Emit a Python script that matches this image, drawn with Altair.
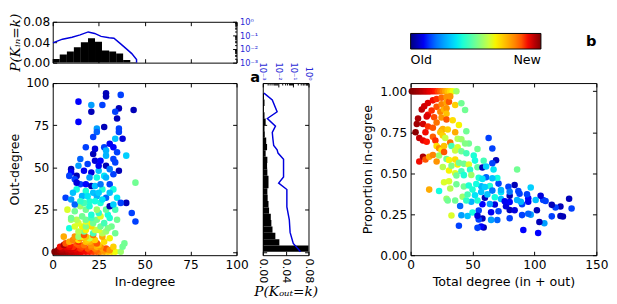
import altair as alt
import pandas as pd

FONT = "DejaVu Sans"
SERIF = "DejaVu Serif"
BLUE = "#0000dd"
BLUE_TXT = "#2b2bd6"

# ---------------- data ----------------
node_in = [
    1, 2, 3, 4, 5, 6, 7, 8, 9, 10, 11, 12, 13, 14, 15, 16, 18, 20, 22, 24, 26, 28, 30, 32, 34, 37,
    3, 4, 5, 8, 10, 13, 17, 20, 24, 28, 5, 8, 12, 15, 19, 23, 27, 11, 29, 31,
    7, 11, 16, 21, 24, 9, 4, 26, 33, 38, 9, 14, 17, 21, 25, 6,
    7, 13, 24, 39, 9, 14, 19, 28, 20, 18, 11, 14, 19, 23, 15, 31, 20, 6, 12, 27,
    16, 18, 14, 17, 22,
    34, 22, 27, 29, 17, 14, 18, 25, 23, 9, 26, 32, 16, 21, 18, 12, 30, 21, 22, 14,
    28, 18, 13, 35, 18, 10, 24, 10, 31, 21, 16, 26, 21, 30, 25, 12, 8, 18, 24, 29,
    34, 15, 20,
    29, 29, 37, 14, 21, 27, 36, 44, 21, 34, 35, 14, 36, 24, 28, 36, 24, 22, 38, 34,
    28, 33, 18, 29, 35, 40, 22, 29, 15, 33, 34, 23, 26, 19, 29, 10, 14, 10, 25, 36,
    9, 13, 21, 28, 33, 45, 12, 15, 24, 29, 18, 21, 23, 31, 27, 33, 18, 13, 22, 16,
    24, 29, 7, 35, 10, 40, 37, 12, 31, 20, 26, 43, 45,
    26, 20, 31, 17, 25, 13, 23, 31, 27, 31, 17, 23, 25, 19, 33, 11, 15,
]
node_out = [
    0, 0, 0, 0, 0, 0, 0, 0, 0, 0, 0, 0, 0, 0, 0, 0, 0, 0, 0, 0, 0, 0, 0, 0, 0, 0,
    1, 1, 1, 1, 1, 1, 1, 1, 1, 1, 2, 2, 2, 2, 2, 2, 2, 2, 2, 1,
    3, 3, 3, 3, 3, 3, 3, 3, 3, 3, 4, 4, 4, 4, 4, 4,
    5, 5, 5, 5, 6, 6, 6, 6, 6, 6, 7, 7, 7, 7, 8, 8, 8, 9, 9, 9,
    9, 9, 9, 10, 10,
    11, 11, 11, 12, 12, 12, 13, 13, 13, 14, 15, 15, 15, 15, 15, 15, 14, 17, 17, 17,
    17, 18, 19, 19, 19, 19, 19, 20, 20, 20, 21, 21, 22, 22, 23, 24, 25, 25, 25, 25,
    25, 27, 27,
    94, 92, 93, 89, 87, 87, 85, 84, 83, 83, 79, 77, 73, 73, 74, 71, 71, 68, 67, 67,
    62, 62, 62, 60, 59, 57, 58, 57, 55, 55, 53, 54, 54, 52, 51, 49, 51, 47, 48, 48,
    45, 45, 47, 45, 46, 41, 43, 40, 44, 44, 40, 39, 39, 40, 37, 37, 36, 37, 35, 33,
    33, 32, 32, 32, 31, 29, 29, 28, 27, 30, 29, 23, 18,
    40, 44, 49, 48, 51, 41, 61, 64, 31, 35, 29, 30, 35, 33, 28, 35, 30,
]
node_age = [
    1.0, 1.0, 0.99, 0.99, 0.98, 0.98, 0.97, 0.97, 0.96, 0.95, 0.95, 0.94, 0.93, 0.93, 0.92, 0.91,
    0.9, 0.89, 0.87, 0.84, 0.8, 0.76, 0.72, 0.68, 0.64, 0.55,
    0.99, 0.97, 0.96, 0.95, 0.93, 0.92, 0.9, 0.88, 0.83, 0.78, 0.94, 0.93, 0.9, 0.88, 0.85, 0.8,
    0.76, 0.92, 0.85, 0.78,
    0.91, 0.88, 0.86, 0.8, 0.74, 0.9, 0.9, 0.78, 0.7, 0.5, 0.89, 0.85, 0.82, 0.78, 0.72, 0.96,
    0.85, 0.84, 0.85, 0.5, 0.75, 0.88, 0.82, 0.68, 0.74, 0.72, 0.8, 0.68, 0.7, 0.7, 0.78, 0.65,
    0.6, 0.75, 0.78, 0.75, 0.66, 0.72, 0.55, 0.85, 0.82,
    0.5, 0.45, 0.58, 0.55, 0.5, 0.58, 0.65, 0.62, 0.6, 0.38, 0.5, 0.5, 0.65, 0.68, 0.52, 0.62,
    0.52, 0.65, 0.5, 0.62, 0.45, 0.62, 0.58, 0.5, 0.5, 0.55, 0.5, 0.5, 0.4, 0.45, 0.5, 0.62,
    0.4, 0.38, 0.42, 0.5, 0.62, 0.5, 0.55, 0.48, 0.45, 0.55, 0.4,
    0.05, 0.05, 0.15, 0.12, 0.25, 0.15, 0.05, 0.05, 0.05, 0.15, 0.05, 0.12, 0.15, 0.25, 0.05, 0.15,
    0.18, 0.15, 0.08, 0.3, 0.15, 0.12, 0.15, 0.28, 0.15, 0.32, 0.05, 0.28, 0.18, 0.15, 0.15, 0.08,
    0.12, 0.15, 0.05, 0.05, 0.25, 0.12, 0.3, 0.05, 0.15, 0.05, 0.08, 0.35, 0.15, 0.5, 0.15, 0.15,
    0.38, 0.28, 0.12, 0.05, 0.3, 0.15, 0.4, 0.38, 0.4, 0.38, 0.3, 0.28, 0.28, 0.18, 0.15, 0.35,
    0.25, 0.05, 0.15, 0.18, 0.05, 0.4, 0.4, 0.15, 0.15,
    0.2, 0.25, 0.2, 0.1, 0.1, 0.08, 0.08, 0.1, 0.35, 0.3, 0.45, 0.38, 0.32, 0.35, 0.32, 0.3, 0.42,
]

in_bin_edges = [0, 3.8, 7.7, 11.5, 15.3, 19.2, 23.0, 26.8, 30.7, 34.5, 38.3, 42.2, 46.0]
in_density = [0.007, 0.016, 0.022, 0.030, 0.040, 0.048, 0.041, 0.024, 0.022, 0.018, 0.005, 0.001]
in_curve_k = [0, 5.3, 10.5, 14.9, 19.3, 22.8, 26.3, 30.7, 33.3, 36.8, 40.4, 43.0, 45.6, 45.6]
in_curve_p = [0.028, 0.053, 0.074, 0.11, 0.18, 0.14, 0.085, 0.068, 0.062, 0.025, 0.0095,
              0.0046, 0.0017, 0.001]

out_bin_edges = [0, 3.76, 7.52, 11.28, 15.04, 18.8, 22.56, 26.32, 30.08, 33.84, 37.6, 41.36,
                 45.12, 48.88, 52.64, 56.4, 60.16, 63.92, 67.68, 71.44, 75.2, 78.96, 82.72,
                 86.48, 90.24, 94.0]
out_density = [0.085, 0.029, 0.022, 0.017, 0.015, 0.014, 0.011, 0.010, 0.0085, 0.008, 0.010,
               0.010, 0.008, 0.0075, 0.008, 0.005, 0.0075, 0.006, 0.0035, 0.003, 0.005, 0.003,
               0.002, 0.003, 0.002]
out_curve_k = [94, 90, 83, 79, 74.5, 70.7, 66.9, 63, 60.4, 58.5, 54.8, 52.8, 46.3, 44.4, 40.7,
               36.9, 26.6, 19, 11.5, 5, 0]
out_curve_p = [0.0012, 0.0042, 0.0087, 0.002, 0.0068, 0.0042, 0.0046, 0.0052, 0.0087, 0.010,
               0.023, 0.023, 0.023, 0.023, 0.011, 0.038, 0.038, 0.055, 0.062, 0.10, 0.30]

deg_ticks = [0, 25, 50, 75, 100]
dens_ticks = [0, 0.04, 0.08]
log_major = [0.001, 0.01, 0.1, 1]
log_all = [m * 10 ** e for e in (-3, -2, -1) for m in range(1, 10)] + [1]
tot_ticks = [0, 50, 100, 150]
prop_ticks = [0, 0.25, 0.5, 0.75, 1.0]

# jet colormap
JET_D = [0, 0.11, 0.125, 0.34, 0.35, 0.375, 0.64, 0.65, 0.66, 0.89, 0.91, 1]
JET_R = ["#000080", "#0000ff", "#0000ff", "#00dbff", "#00e5f7", "#14ffe2", "#eeff08",
         "#f7f500", "#ffec00", "#ff1300", "#e80000", "#800000"]

# ---------------- frames ----------------
nodes = pd.DataFrame({"kin": node_in, "kout": node_out, "age": node_age})
in_hist = pd.DataFrame({"lo": in_bin_edges[:-1], "hi": in_bin_edges[1:], "dens": in_density})
in_curve = pd.DataFrame({"k": in_curve_k, "p": in_curve_p, "i": list(range(len(in_curve_k)))})
out_hist = pd.DataFrame({"lo": out_bin_edges[:-1], "hi": out_bin_edges[1:], "dens": out_density})
out_curve = pd.DataFrame({"k": out_curve_k, "p": out_curve_p, "i": list(range(len(out_curve_k)))})

W1, W2, WG, W4 = 189, 47, 51, 191
H1, H2 = 42, 177

x_deg = alt.Scale(domain=[0, 100], nice=False, zero=False)
y_out = alt.Scale(domain=[-2, 100], nice=False, zero=False)
y_dens = alt.Scale(domain=[0, 0.08], nice=False, zero=False)
x_dens = alt.Scale(domain=[0, 0.08], nice=False, zero=False)
logsc = alt.Scale(type="log", domain=[0.001, 1], nice=False)
x_tot = alt.Scale(domain=[0, 150], nice=False, zero=False)
y_prop = alt.Scale(domain=[0, 1.05], nice=False, zero=False)

LAB = dict(ticks=False, domain=False, grid=False, labelFlush=False, labelOverlap=False)
POW = ("datum.value >= 0.5 ? '10⁰' : datum.value >= 0.05 ? '10⁻¹' : "
       "datum.value >= 0.005 ? '10⁻²' : '10⁻³'")
MAJOR = "datum.value == 0.001 || datum.value == 0.01 || datum.value == 0.1 || datum.value == 1"
MINOR_SIZE = {"condition": {"test": MAJOR, "value": 4}, "value": 2}


def tick_axis(side, values, dim, size=4):
    orient = {"bottom": "top", "top": "bottom", "left": "right", "right": "left"}[side]
    return alt.Axis(orient=orient, offset=-dim, values=values, labels=False, domain=False,
                    grid=False, ticks=True, tickSize=size, tickColor="black", tickWidth=1,
                    title=None)


def helper(base, xf, xs, xa, yf, ys, ya):
    return base.mark_point(opacity=0, size=1, clip=True).encode(
        x=alt.X(xf, scale=xs, axis=xa), y=alt.Y(yf, scale=ys, axis=ya))


LEG = alt.Legend(orient="none", legendX=368, legendY=12, direction="horizontal",
                 gradientLength=134, gradientThickness=16, gradientStrokeColor="black",
                 gradientStrokeWidth=1, title=None, values=[0, 1],
                 labelExpr="datum.value < 0.5 ? 'Old' : 'New'", labelFontSize=13,
                 labelFont=FONT, labelColor="black", labelAlign="center", labelOffset=5,
                 labelOverlap=False)
color = alt.Color("age:Q", scale=alt.Scale(domain=JET_D, range=JET_R), legend=LEG)

# ---------------- top histogram (in-degree) ----------------
top_bars = alt.Chart(in_hist).mark_rect(color="black", clip=True).encode(
    x=alt.X("lo:Q", scale=x_deg, axis=None),
    x2="hi:Q",
    y=alt.Y("dens:Q", scale=y_dens,
            axis=alt.Axis(orient="left", values=dens_ticks, format=".2f", labelPadding=3,
                          title="P(Kᵢₙ=k)", titleFont=SERIF, titleFontStyle="italic",
                          titleFontSize=14, titlePadding=0, **LAB)),
    y2=alt.datum(0),
)
top_line = alt.Chart(in_curve).mark_line(color=BLUE, strokeWidth=1.5, clip=True).encode(
    x=alt.X("k:Q", scale=x_deg, axis=None),
    y=alt.Y("p:Q", scale=logsc,
            axis=alt.Axis(orient="right", values=log_major, labelExpr=POW, labelColor=BLUE_TXT,
                          labelFontSize=8.5, labelPadding=3, title=None, **LAB)),
    order="i:Q",
)
top_t1 = helper(alt.Chart(in_hist), "lo:Q", x_deg, tick_axis("bottom", deg_ticks, H1),
                "dens:Q", y_dens, tick_axis("left", dens_ticks, W1))
top_t2 = helper(alt.Chart(in_curve), "k:Q", x_deg, tick_axis("top", deg_ticks, H1),
                "p:Q", logsc, tick_axis("right", log_all, W1, MINOR_SIZE))
top = alt.layer(top_bars, top_line, top_t1, top_t2).resolve_scale(
    x="independent", y="independent").resolve_axis(x="independent", y="independent").properties(
    width=W1, height=H1)

# ---------------- scatter a ----------------
pts_a = alt.Chart(nodes).mark_circle(size=45, opacity=1).encode(
    x=alt.X("kin:Q", scale=x_deg,
            axis=alt.Axis(values=deg_ticks, labelPadding=4, title="In-degree", titlePadding=5, **LAB)),
    y=alt.Y("kout:Q", scale=y_out,
            axis=alt.Axis(values=deg_ticks, labelPadding=4, title="Out-degree", titlePadding=4, **LAB)),
    color=color,
)
a_t1 = helper(alt.Chart(nodes), "kin:Q", x_deg, tick_axis("bottom", deg_ticks, H2),
              "kout:Q", y_out, tick_axis("left", deg_ticks, W1))
a_t2 = helper(alt.Chart(nodes), "kin:Q", x_deg, tick_axis("top", deg_ticks, H2),
              "kout:Q", y_out, tick_axis("right", deg_ticks, W1))
scat_a = alt.layer(pts_a, a_t1, a_t2).resolve_axis(x="independent", y="independent").properties(
    width=W1, height=H2)

# ---------------- right histogram (out-degree) ----------------
rh_bars = alt.Chart(out_hist).mark_rect(color="black", clip=True).encode(
    x=alt.X("dens:Q", scale=x_dens,
            axis=alt.Axis(values=dens_ticks, format=".2f", labelAngle=90, labelFontSize=11.5,
                          labelPadding=3, title="P(Kₒᵤₜ=k)", titleFont=SERIF,
                          titleFontStyle="italic", titleFontSize=14, titlePadding=2, **LAB)),
    x2=alt.datum(0),
    y=alt.Y("lo:Q", scale=y_out, axis=None),
    y2="hi:Q",
)
rh_line = alt.Chart(out_curve).mark_line(color=BLUE, strokeWidth=1.5, clip=True).encode(
    x=alt.X("p:Q", scale=logsc,
            axis=alt.Axis(orient="top", values=log_major, labelExpr=POW, labelAngle=90,
                          labelColor=BLUE_TXT, labelFontSize=8.5, labelPadding=3, title=None, **LAB)),
    y=alt.Y("k:Q", scale=y_out, axis=None),
    order="i:Q",
)
rh_t1 = helper(alt.Chart(out_hist), "dens:Q", x_dens, tick_axis("bottom", dens_ticks, H2),
               "lo:Q", y_out, tick_axis("left", deg_ticks, W2))
rh_t2 = helper(alt.Chart(out_curve), "p:Q", logsc, tick_axis("top", log_all, H2, MINOR_SIZE),
               "k:Q", y_out, tick_axis("right", deg_ticks, W2))
right_hist = alt.layer(rh_bars, rh_line, rh_t1, rh_t2).resolve_scale(
    x="independent", y="independent").resolve_axis(x="independent", y="independent").properties(
    width=W2, height=H2,
    title=alt.TitleParams("a", anchor="start", frame="group", fontSize=15, fontWeight="bold",
                          font=FONT, color="black", dx=-13, offset=-24))

# ---------------- scatter b ----------------
base_b = alt.Chart(nodes).transform_calculate(
    total="datum.kin + datum.kout", prop="datum.kin / (datum.kin + datum.kout)")
pts_b = base_b.mark_circle(size=45, opacity=1).encode(
    x=alt.X("total:Q", scale=x_tot,
            axis=alt.Axis(values=tot_ticks, labelPadding=4, title="Total degree (in + out)",
                          titlePadding=5, **LAB)),
    y=alt.Y("prop:Q", scale=y_prop,
            axis=alt.Axis(values=prop_ticks, format=".2f", labelPadding=4,
                          title="Proportion in-degree", titlePadding=5, **LAB)),
    color=color,
)
b_t1 = helper(base_b, "total:Q", x_tot, tick_axis("bottom", tot_ticks, H2),
              "prop:Q", y_prop, tick_axis("left", prop_ticks, W4))
b_t2 = helper(base_b, "total:Q", x_tot, tick_axis("top", tot_ticks, H2),
              "prop:Q", y_prop, tick_axis("right", prop_ticks, W4))
scat_b = alt.layer(pts_b, b_t1, b_t2).resolve_axis(x="independent", y="independent").properties(
    width=W4, height=H2)


# ---------------- spacers ----------------
def spacer(w, h, title=None):
    c = alt.Chart(pd.DataFrame({"v": [0.5]})).mark_point(opacity=0, size=1, clip=True).encode(
        x=alt.X("v:Q", axis=None, scale=alt.Scale(domain=[0, 1])),
        y=alt.Y("v:Q", axis=None, scale=alt.Scale(domain=[0, 1])))
    props = dict(width=w, height=h, view=alt.ViewBackground(strokeOpacity=0))
    if title is not None:
        props["title"] = title
    return c.properties(**props)


b_title = alt.TitleParams("b", anchor="end", frame="group", fontSize=15, fontWeight="bold",
                          font=FONT, color="black", offset=-28)

chart = alt.concat(
    top, spacer(W2, H1), spacer(WG, H1), spacer(W4, H1, b_title),
    scat_a, right_hist, spacer(WG, H2), scat_b,
    columns=4, spacing={"row": 21, "column": 27}, bounds="flush",
).properties(padding=0).configure(font=FONT).configure_view(
    stroke="black", strokeWidth=1).configure_axis(
    labelFont=FONT, labelFontSize=12.5, labelColor="black", titleFont=FONT, titleFontSize=13,
    titleColor="black", titleFontWeight="normal")

chart.save("out.html", embed_options={"renderer": "svg", "actions": False})
